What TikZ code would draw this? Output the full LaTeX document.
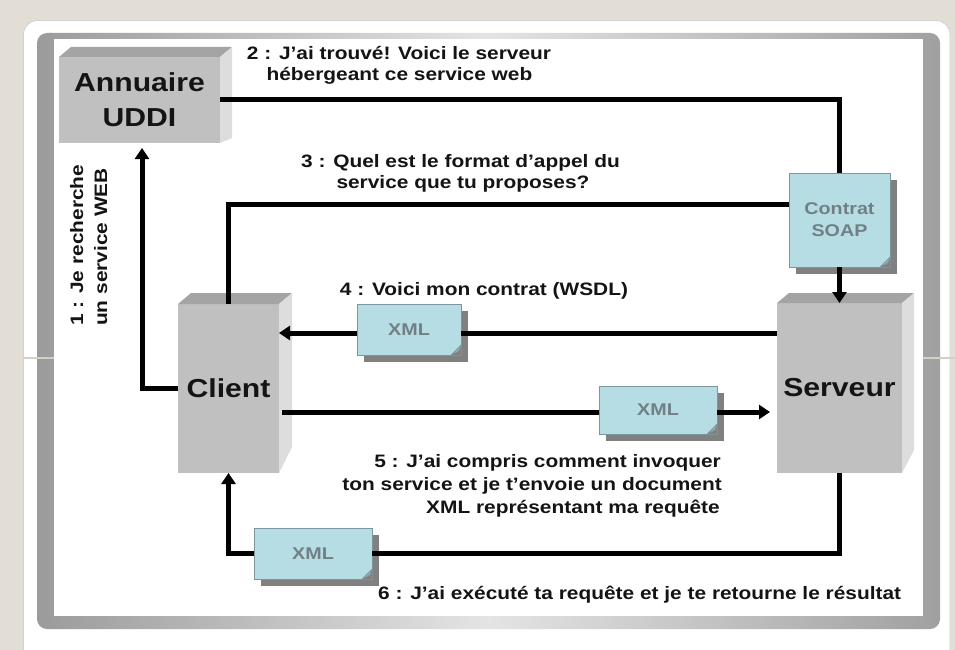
\documentclass[tikz,border=0pt]{standalone}
\usepackage{fontspec}
\setmainfont{Liberation Sans}[FakeStretch=1.16]
\usetikzlibrary{arrows.meta,shadows}
\definecolor{beige}{RGB}{227,222,213}
\definecolor{slideline}{RGB}{214,207,197}
\definecolor{frameL}{RGB}{155,155,155}
\definecolor{frameM}{RGB}{228,228,228}
\definecolor{frameR}{RGB}{160,160,160}
\definecolor{boxfront}{RGB}{192,192,192}
\definecolor{boxtop}{RGB}{164,164,164}
\definecolor{boxside}{RGB}{221,221,221}
\definecolor{notefill}{RGB}{183,221,228}
\definecolor{noteborder}{RGB}{125,150,158}
\definecolor{notetext}{RGB}{112,128,133}
\definecolor{shadowgray}{RGB}{128,128,128}
\definecolor{foldcol}{RGB}{150,170,176}
\definecolor{ink}{RGB}{20,20,20}
\begin{document}
\begin{tikzpicture}[x=1pt,y=-1pt,
  box3d/.style={fill=boxfront, inner sep=0pt, outer sep=0pt, align=center, text=ink,
    font=\fontsize{26}{35}\selectfont\bfseries},
  note/.style={fill=notefill, draw=noteborder, line width=0.6pt, inner sep=0pt, outer sep=0pt,
    align=center, text=notetext, font=\fontsize{17}{22}\selectfont\bfseries,
    drop shadow={shadow xshift=7pt, shadow yshift=-7pt, fill=shadowgray, opacity=1}},
  conn/.style={line width=5pt, draw=black},
  arr/.style={conn, -{Triangle[length=11pt,width=14pt]}},
  lbl/.style={font=\fontsize{18}{21}\selectfont\bfseries, text=ink, inner sep=0pt}
]
\useasboundingbox (0,0) rectangle (955,650);
% slide background
\fill[beige] (0,0) rectangle (955,650);
\draw[fill=white, draw=gray!35, line width=0.8pt, rounded corners=14pt] (23.5,20.5) rectangle (950,690);
% picture frame
\shade[left color=frameL, right color=frameR, middle color=frameM, rounded corners=10pt]
  (37,33) rectangle (940,629);
\draw[slideline, line width=1.5pt] (24,358) -- (955,358);
\fill[white] (54,39) rectangle (923,616);

% 3D boxes
\node[box3d, minimum width=161pt, minimum height=86pt] (ann) at (139.5,100) {Annuaire\\UDDI};
\node[box3d, minimum width=101pt, minimum height=169pt] (cli) at (228.5,388.5) {Client};
\node[box3d, minimum width=125pt, minimum height=170pt] (srv) at (839.5,388) {Serveur};
\foreach \n/\dx/\dy/\cut in {ann/12/10/5, cli/13/11/26, srv/12/10/23} {
  \fill[boxtop] (\n.north west) -- ([xshift=\dx pt,yshift=\dy pt]\n.north west)
    -- ([xshift=\dx pt,yshift=\dy pt]\n.north east) -- (\n.north east) -- cycle;
  \fill[boxside] (\n.north east) -- ([xshift=\dx pt,yshift=\dy pt]\n.north east)
    -- ([xshift=\dx pt,yshift=\cut pt]\n.south east) -- (\n.south east) -- cycle;
}

% notes
\node[note, minimum width=101pt, minimum height=94pt] (soap) at (839.5,220) {Contrat\\SOAP};
\node[note, minimum width=104pt, minimum height=51pt] (xmla) at (409,329.5) {XML};
\node[note, minimum width=118pt, minimum height=48pt] (xmlb) at (658,410) {XML};
\node[note, minimum width=118pt, minimum height=51pt] (xmlc) at (313,553.5) {XML};
\foreach \n in {soap,xmla,xmlb,xmlc} {
  \fill[shadowgray] ([yshift=10pt]\n.south east) -- (\n.south east) -- ([xshift=-10pt]\n.south east) -- cycle;
  \fill[foldcol, draw=noteborder, line width=0.5pt] ([yshift=10pt]\n.south east) -- ([xshift=-10pt]\n.south east)
    -- ([xshift=-2pt,yshift=4pt]\n.south east) -- cycle;
}

% connectors
\draw[arr] (cli.west) -| ([xshift=2.5pt,yshift=-5pt]ann.south);
\draw[conn] (ann.east) -| (soap.north);
\draw[arr] (soap.south) -- (soap.south |- srv.north);
\draw[conn] ([yshift=16pt]soap.west) -| (cli.north);
\coordinate (y4) at ([yshift=55pt]srv.west);
\draw[conn] (y4) -- (y4 -| xmla.east);
\draw[arr] (y4 -| xmla.west) -- (y4 -| cli.east);
\coordinate (y5) at ([yshift=-23.5pt]cli.east);
\draw[conn] ([xshift=3pt]y5) -- (y5 -| xmlb.west);
\draw[arr, shorten >=7pt] (y5 -| xmlb.east) -- (y5 -| srv.west);
\draw[conn] (srv.south) |- (xmlc.east);
\draw[arr] (xmlc.west) -| (cli.south);

% labels
\node[lbl, anchor=base west, rotate=90] (t1a) at (83,326) {1 : Je recherche};
\node[lbl, anchor=base west, rotate=90] (t1b) at (107,326) {un service WEB};
\node[lbl, anchor=base] (t2a) at (399,60) {2 : J’ai trouvé! Voici le serveur};
\node[lbl, anchor=base] (t2b) at (399.5,81) {hébergeant ce service web};
\node[lbl, anchor=base] (t3a) at (460.5,167) {3 : Quel est le format d’appel du};
\node[lbl, anchor=base] (t3b) at (463,188) {service que tu proposes?};
\node[lbl, anchor=base] (t4) at (484,295) {4 : Voici mon contrat (WSDL)};
\node[lbl, anchor=base east] (t5a) at (721,467) {5 : J’ai compris comment invoquer};
\node[lbl, anchor=base east] (t5b) at (722,490) {ton service et je t’envoie un document};
\node[lbl, anchor=base east] (t5c) at (720,513) {XML représentant ma requête};
\node[lbl, anchor=base west] (t6) at (378,599) {6 : J’ai exécuté ta requête et je te retourne le résultat};
\end{tikzpicture}
\end{document}
